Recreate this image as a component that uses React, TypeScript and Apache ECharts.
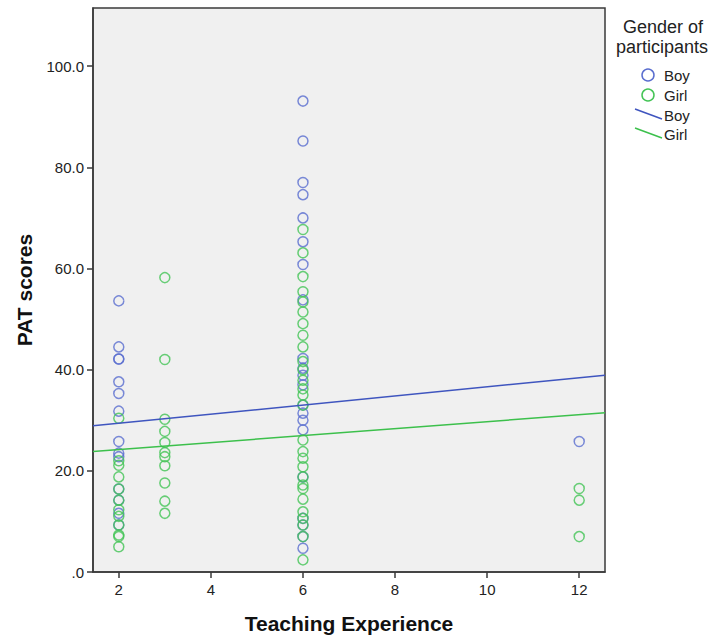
import React, { useEffect, useRef } from "react";
import * as echarts from "echarts";

// Teaching experience groups (years)
const expGroups = [2, 3, 6, 12];

// PAT scores of boys by teaching experience
const boyAt2 = [53.6, 44.5, 42.1, 42.1, 37.6, 35.3, 31.8, 25.8, 23.5, 22.8, 16.4, 14.2, 11.6, 9.3];
const boyAt3: number[] = [];
const boyAt6 = [93.1, 85.2, 77.0, 74.6, 70.0, 65.3, 60.8, 53.8, 42.2, 40.3, 38.9, 37.0, 33.0, 31.4, 30.0, 28.1, 18.8, 10.6, 9.3, 7.0, 4.7];
const boyAt12 = [25.8];

// PAT scores of girls by teaching experience
const girlAt2 = [30.4, 22.0, 21.1, 18.8, 16.4, 14.2, 12.3, 11.0, 9.3, 7.3, 7.0, 5.0];
const girlAt3 = [58.2, 42.0, 30.2, 27.8, 25.6, 23.6, 22.8, 21.0, 17.6, 14.0, 11.6];
const girlAt6 = [67.7, 63.1, 58.4, 55.4, 53.4, 51.4, 49.1, 46.8, 44.5, 41.6, 40.0, 37.9, 36.2, 35.0, 33.0, 26.1, 23.8, 22.5, 20.8, 18.8, 17.2, 16.5, 14.4, 11.9, 10.6, 9.3, 7.0, 2.4];
const girlAt12 = [16.5, 14.2, 7.0];

// Fit lines (endpoints at the axis extent)
const fitX = [1.44, 12.56];
const boyFit = [28.9, 38.9];
const girlFit = [23.8, 31.5];

// Axis ticks
const xTicks = [2, 4, 6, 8, 10, 12];
const yTicks = [0, 20, 40, 60, 80, 100];

const BOY_PT = "#5a6ecf";
const GIRL_PT = "#44c456";
const BOY_LINE = "#3f55bf";
const GIRL_LINE = "#3cc04c";
const FONT = "'Liberation Sans', Arial, sans-serif";

function toPoints(groups: number[][]): number[][] {
  const out: number[][] = [];
  groups.forEach((vals, i) => vals.forEach((v) => out.push([expGroups[i], v])));
  return out;
}

export default function App() {
  const ref = useRef<HTMLDivElement>(null);
  useEffect(() => {
    const chart = echarts.init(ref.current!, null, { renderer: "svg" });
    const boyPts = toPoints([boyAt2, boyAt3, boyAt6, boyAt12]);
    const girlPts = toPoints([girlAt2, girlAt3, girlAt6, girlAt12]);
    chart.setOption({
      animation: false,
      backgroundColor: "#ffffff",
      grid: {
        left: 93,
        right: 110,
        top: 8,
        bottom: 69,
        show: true,
        backgroundColor: "#f0f0f0",
        borderColor: "#3a3a3a",
        borderWidth: 1.5,
      },
      xAxis: {
        type: "value",
        min: fitX[0],
        max: fitX[1],
        name: "Teaching Experience",
        nameLocation: "middle",
        nameGap: 41,
        nameTextStyle: { fontFamily: FONT, fontWeight: "bold", fontSize: 21, color: "#111" },
        axisLine: { show: true, lineStyle: { color: "#3a3a3a", width: 1.5 } },
        axisTick: { show: true, inside: false, length: 6, customValues: xTicks, lineStyle: { color: "#3a3a3a", width: 1.5 } },
        axisLabel: { customValues: xTicks, margin: 10, fontFamily: FONT, fontSize: 15, color: "#222" },
        splitLine: { show: false },
      },
      yAxis: {
        type: "value",
        min: 0,
        max: 111.5,
        name: "PAT scores",
        nameLocation: "middle",
        nameGap: 58,
        nameTextStyle: { fontFamily: FONT, fontWeight: "bold", fontSize: 21, color: "#111" },
        axisLine: { show: true, lineStyle: { color: "#3a3a3a", width: 1.5 } },
        axisTick: { show: true, inside: false, length: 6, customValues: yTicks, lineStyle: { color: "#3a3a3a", width: 1.5 } },
        axisLabel: {
          customValues: yTicks,
          margin: 9,
          fontFamily: FONT,
          fontSize: 15,
          color: "#222",
          formatter: (v: number) => (v === 0 ? ".0" : v.toFixed(1)),
        },
        splitLine: { show: false },
      },
      series: [
        {
          name: "Boy",
          type: "scatter",
          data: boyPts,
          symbol: "circle",
          symbolSize: 10,
          itemStyle: { color: "rgba(0,0,0,0)", borderColor: BOY_PT, borderWidth: 1.5 },
          z: 2,
        },
        {
          name: "Girl",
          type: "scatter",
          data: girlPts,
          symbol: "circle",
          symbolSize: 10,
          itemStyle: { color: "rgba(0,0,0,0)", borderColor: GIRL_PT, borderWidth: 1.5 },
          z: 3,
        },
        {
          name: "Boy fit",
          type: "line",
          data: fitX.map((x, i) => [x, boyFit[i]]),
          symbol: "none",
          lineStyle: { color: BOY_LINE, width: 1.5 },
          z: 4,
        },
        {
          name: "Girl fit",
          type: "line",
          data: fitX.map((x, i) => [x, girlFit[i]]),
          symbol: "none",
          lineStyle: { color: GIRL_LINE, width: 1.5 },
          z: 4,
        },
      ],
      graphic: [
        { type: "text", x: 663, y: 27, style: { text: "Gender of", align: "center", verticalAlign: "middle", fontFamily: FONT, fontSize: 18, fill: "#222" } },
        { type: "text", x: 662, y: 47, style: { text: "participants", align: "center", verticalAlign: "middle", fontFamily: FONT, fontSize: 18, fill: "#222" } },
        { type: "circle", shape: { cx: 648, cy: 75, r: 6 }, style: { fill: "none", stroke: BOY_PT, lineWidth: 1.5 } },
        { type: "text", x: 664, y: 75, style: { text: "Boy", verticalAlign: "middle", fontFamily: FONT, fontSize: 15, fill: "#222" } },
        { type: "circle", shape: { cx: 648, cy: 95, r: 6 }, style: { fill: "none", stroke: GIRL_PT, lineWidth: 1.5 } },
        { type: "text", x: 664, y: 95, style: { text: "Girl", verticalAlign: "middle", fontFamily: FONT, fontSize: 15, fill: "#222" } },
        { type: "line", shape: { x1: 635, y1: 109, x2: 662, y2: 119 }, style: { stroke: BOY_LINE, lineWidth: 1.5 } },
        { type: "text", x: 664, y: 115, style: { text: "Boy", verticalAlign: "middle", fontFamily: FONT, fontSize: 15, fill: "#222" } },
        { type: "line", shape: { x1: 635, y1: 128, x2: 662, y2: 138 }, style: { stroke: GIRL_LINE, lineWidth: 1.5 } },
        { type: "text", x: 664, y: 134, style: { text: "Girl", verticalAlign: "middle", fontFamily: FONT, fontSize: 15, fill: "#222" } },
      ],
    });
    return () => chart.dispose();
  }, []);
  return <div ref={ref} style={{ position: "absolute", left: 0, top: 0, width: 715, height: 641 }} />;
}
